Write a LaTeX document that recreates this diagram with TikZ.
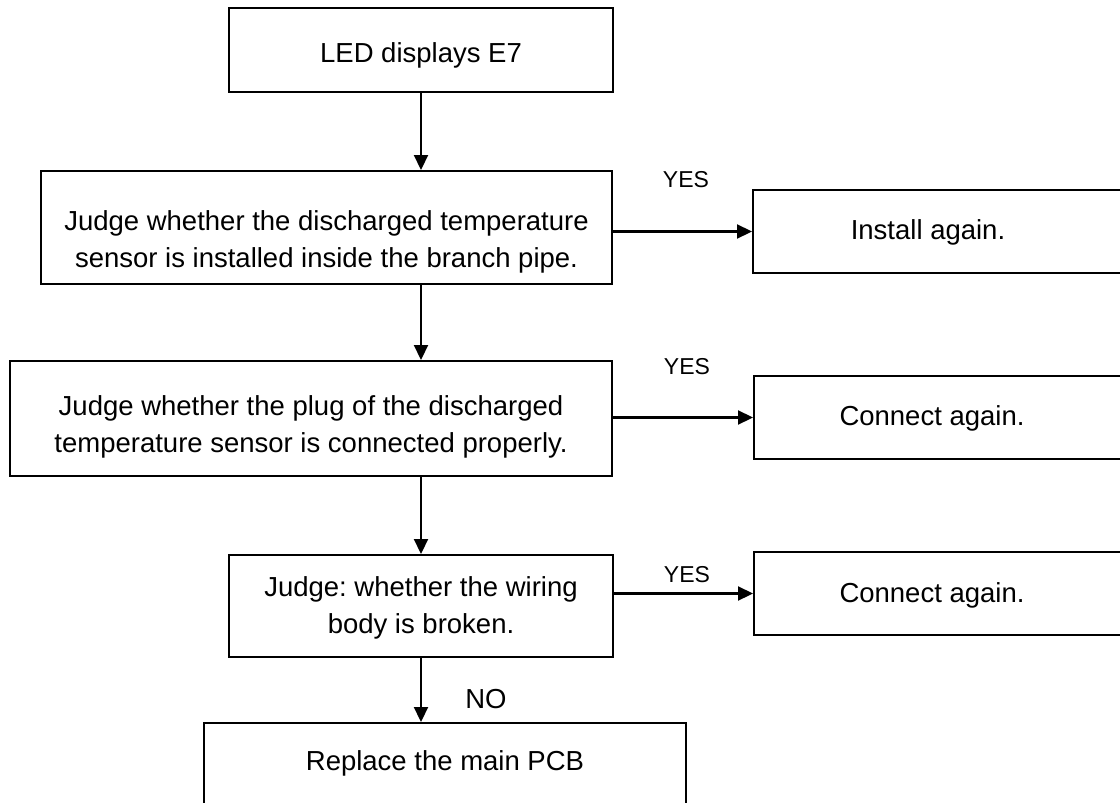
\documentclass[tikz,border=0pt]{standalone}
\usepackage{fontspec}
\setmainfont{Liberation Sans}
\usetikzlibrary{arrows.meta}
\frenchspacing
\begin{document}
\begin{tikzpicture}[x=1pt,y=-1pt,
  box/.style={draw, line width=2pt, inner sep=0pt, rectangle},
  txt/.style={inner sep=0pt, font=\fontsize{27.5}{37}\selectfont, align=center},
  btxt/.style={txt, anchor=base},
  yeslbl/.style={inner sep=0pt, font=\fontsize{23}{28}\selectfont, anchor=base},
  arr/.style={line width=2.2pt, -{Triangle[length=15pt,width=14pt]}}]
\useasboundingbox (0,0) rectangle (1120,803);
\clip (0,0) rectangle (1120,803);
% boxes
\node[box, minimum width=384pt, minimum height=84pt] (b1) at (421,50) {};
\node[box, minimum width=571pt, minimum height=113pt] (b2) at (326.5,227.5) {};
\node[box, minimum width=602pt, minimum height=115pt] (b3) at (311,418.5) {};
\node[box, minimum width=384pt, minimum height=102pt] (b4) at (421,606) {};
\node[box, minimum width=482pt, minimum height=107pt] (b5) at (445,776.5) {};
\node[box, minimum width=377pt, minimum height=83pt] (r1) at (941.5,231.5) {};
\node[box, minimum width=376pt, minimum height=83pt] (r2) at (942,417.5) {};
\node[box, minimum width=376pt, minimum height=83pt] (r3) at (942,593.5) {};
% texts
\node[btxt] (t1) at (421,62) {LED displays E7};
\node[txt] (t2) at (326.5,241.6) {Judge whether the discharged temperature\\sensor is installed inside the branch pipe.};
\node[txt] (t3) at (311,426.6) {Judge whether the plug of the discharged\\temperature sensor is connected properly.};
\node[txt] (t4) at (421,608) {Judge: whether the wiring\\body is broken.};
\node[btxt] (t5) at (445,770) {Replace the main PCB};
\node[btxt] (tr1) at (928,239) {Install again.};
\node[btxt] (tr2) at (932,425) {Connect again.};
\node[btxt] (tr3) at (932,602) {Connect again.};
\node[yeslbl] (y1) at (686,187) {YES};
\node[yeslbl] (y2) at (687,374) {YES};
\node[yeslbl] (y3) at (687,582) {YES};
\node[btxt] (no) at (486,708) {NO};
% connectors
\draw[arr] (b1.south) -- (b1.south |- b2.north);
\draw[arr] (b2.south -| b1.south) -- (b3.north -| b1.south);
\draw[arr] (b3.south -| b4.north) -- (b4.north);
\draw[arr] (b4.south) -- (b4.south |- b5.north);
\draw[arr] (b2.east |- r1.west) -- (r1.west);
\draw[arr] (b3.east |- r2.west) -- (r2.west);
\draw[arr] (b4.east |- r3.west) -- (r3.west);
\end{tikzpicture}
\end{document}
